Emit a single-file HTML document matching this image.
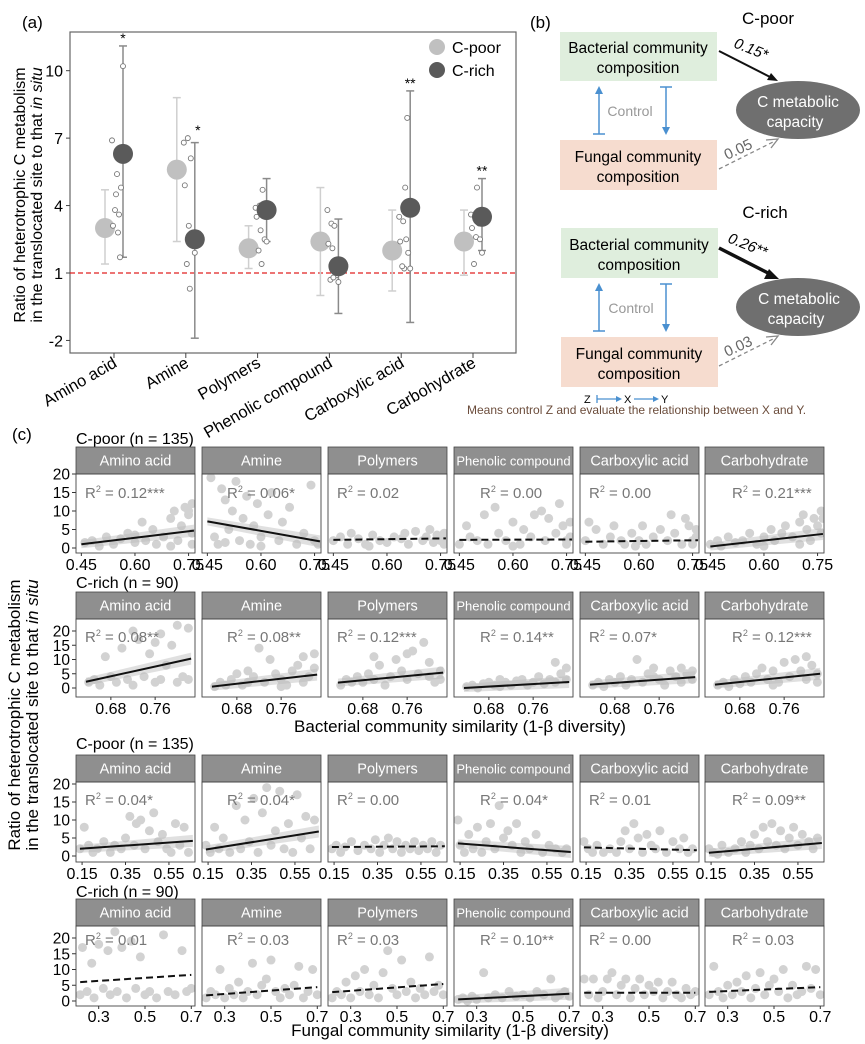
<!DOCTYPE html>
<html><head><meta charset="utf-8">
<style>
html,body{margin:0;padding:0;background:#fff;}
svg{display:block;font-family:"Liberation Sans",sans-serif;}
.nar{font-family:"Liberation Sans Narrow","Liberation Sans",sans-serif;}
</style></head>
<body>
<svg id="fig" width="865" height="1044" viewBox="0 0 865 1044" xmlns="http://www.w3.org/2000/svg">
  <text x="22" y="28" font-size="17">(a)</text>
  <text x="530" y="28" font-size="17">(b)</text>
  <text x="12" y="440" font-size="17">(c)</text>

  <g id="pa">
    <rect x="70" y="32" width="446" height="321" fill="none" stroke="#666" stroke-width="1.2"/>
  </g>
  <text transform="translate(25,195) rotate(-90)" text-anchor="middle" font-size="16">Ratio of heterotrophic C metabolism</text>
  <text transform="translate(42,195) rotate(-90)" text-anchor="middle" font-size="16">in the translocated site to that <tspan font-style="italic">in situ</tspan></text>
  <g>
    <line x1="437" y1="39" x2="437" y2="55" stroke="#ccc" stroke-width="1.5"/>
    <circle cx="437" cy="47" r="8" fill="#c0c0c0"/>
    <text x="452" y="53" font-size="16">C-poor</text>
    <line x1="437" y1="62" x2="437" y2="78" stroke="#888" stroke-width="1.5"/>
    <circle cx="437" cy="70" r="8" fill="#5a5a5a"/>
    <text x="452" y="76" font-size="16">C-rich</text>
  </g>

  <g font-size="15.5">
    <text x="768" y="24" font-size="17" text-anchor="middle">C-poor</text>
    <rect x="560" y="32" width="157" height="49" fill="#dfeedd"/>
    <text x="638" y="53" text-anchor="middle">Bacterial community</text>
    <text x="638" y="73" text-anchor="middle">composition</text>
    <rect x="560" y="140" width="157" height="50" fill="#f6dccf"/>
    <text x="638" y="162" text-anchor="middle">Fungal community</text>
    <text x="638" y="182" text-anchor="middle">composition</text>
    <ellipse cx="798" cy="110" rx="62" ry="29" fill="#6f6f6f"/>
    <text x="798" y="107" text-anchor="middle" fill="#fff">C metabolic</text>
    <text x="795" y="127" text-anchor="middle" fill="#fff">capacity</text>
    <line x1="599" y1="134" x2="599" y2="90" stroke="#4a90d0" stroke-width="1.5"/>
    <polygon points="599,86 595,94 603,94" fill="#4a90d0"/>
    <line x1="593" y1="134" x2="605" y2="134" stroke="#4a90d0" stroke-width="1.5"/>
    <line x1="666" y1="87" x2="666" y2="130" stroke="#4a90d0" stroke-width="1.5"/>
    <line x1="660" y1="87" x2="672" y2="87" stroke="#4a90d0" stroke-width="1.5"/>
    <polygon points="666,135 662,127 670,127" fill="#4a90d0"/>
    <text x="630" y="116" fill="#999" font-size="14" text-anchor="middle">Control</text>
    <line x1="719" y1="51" x2="772" y2="78" stroke="#111" stroke-width="2"/>
    <polygon points="778,81 767,80 771,73" fill="#111"/>
    <text transform="translate(733,47) rotate(22)" font-size="15" font-style="italic">0.15*</text>
    <line x1="719" y1="169" x2="773" y2="142" stroke="#888" stroke-width="1.3" stroke-dasharray="4,3"/>
    <polyline points="766,140 778,139 771,148" fill="none" stroke="#888" stroke-width="1.3"/>
    <text transform="translate(727,160) rotate(-25)" font-size="15" fill="#666">0.05</text>

    <text x="765" y="218" font-size="17" text-anchor="middle">C-rich</text>
    <rect x="561" y="228" width="157" height="50" fill="#dfeedd"/>
    <text x="639" y="250" text-anchor="middle">Bacterial community</text>
    <text x="639" y="270" text-anchor="middle">composition</text>
    <rect x="561" y="337" width="157" height="50" fill="#f6dccf"/>
    <text x="639" y="359" text-anchor="middle">Fungal community</text>
    <text x="639" y="379" text-anchor="middle">composition</text>
    <ellipse cx="798" cy="307" rx="62" ry="29" fill="#6f6f6f"/>
    <text x="799" y="304" text-anchor="middle" fill="#fff">C metabolic</text>
    <text x="796" y="324" text-anchor="middle" fill="#fff">capacity</text>
    <line x1="599" y1="331" x2="599" y2="287" stroke="#4a90d0" stroke-width="1.5"/>
    <polygon points="599,283 595,291 603,291" fill="#4a90d0"/>
    <line x1="593" y1="331" x2="605" y2="331" stroke="#4a90d0" stroke-width="1.5"/>
    <line x1="666" y1="284" x2="666" y2="327" stroke="#4a90d0" stroke-width="1.5"/>
    <line x1="660" y1="284" x2="672" y2="284" stroke="#4a90d0" stroke-width="1.5"/>
    <polygon points="666,332 662,324 670,324" fill="#4a90d0"/>
    <text x="631" y="313" fill="#999" font-size="14" text-anchor="middle">Control</text>
    <line x1="719" y1="248" x2="770" y2="274" stroke="#111" stroke-width="3.5"/>
    <polygon points="779,279 764,279 769,269" fill="#111"/>
    <text transform="translate(727,242) rotate(22)" font-size="15" font-style="italic">0.26**</text>
    <line x1="719" y1="366" x2="773" y2="339" stroke="#888" stroke-width="1.3" stroke-dasharray="4,3"/>
    <polyline points="766,337 778,336 771,345" fill="none" stroke="#888" stroke-width="1.3"/>
    <text transform="translate(727,357) rotate(-25)" font-size="15" fill="#666">0.03</text>

    <g font-size="11">
      <text x="584" y="403">Z</text>
      <line x1="597" y1="399" x2="618" y2="399" stroke="#4a90d0" stroke-width="1.3"/>
      <line x1="597" y1="395" x2="597" y2="403" stroke="#4a90d0" stroke-width="1.3"/>
      <polygon points="622,399 616,396 616,402" fill="#4a90d0"/>
      <text x="624" y="403">X</text>
      <line x1="634" y1="399" x2="655" y2="399" stroke="#4a90d0" stroke-width="1.3"/>
      <polygon points="659,399 653,396 653,402" fill="#4a90d0"/>
      <text x="661" y="403">Y</text>
    </g>
    <text x="467" y="414" font-size="12" fill="#6b4c3b">Means control Z and evaluate the relationship between X and Y.</text>
  </g>

  <g id="pc"></g>
  <text transform="translate(20,715) rotate(-90)" text-anchor="middle" font-size="17">Ratio of heterotrophic C metabolism</text>
  <text transform="translate(38,715) rotate(-90)" text-anchor="middle" font-size="17">in the translocated site to that <tspan font-style="italic">in situ</tspan></text>
  <text x="460" y="732" text-anchor="middle" font-size="17" class="nar">Bacterial community similarity (1-β diversity)</text>
  <text x="450" y="1036" text-anchor="middle" font-size="17" class="nar">Fungal community similarity (1-β diversity)</text>
</svg>

<script>
const NS = "http://www.w3.org/2000/svg";
// ---------- Panel a data ----------
const aCategories = ["Amino acid","Amine","Polymers","Phenolic compound","Carboxylic acid","Carbohydrate"];
const aPoorMean = [3.0, 5.6, 2.1, 2.4, 2.0, 2.4];
const aPoorLow  = [1.4, 2.4, 1.2, 0.0, 0.2, 0.9];
const aPoorHigh = [4.7, 8.8, 3.1, 4.8, 3.8, 3.8];
const aRichMean = [6.3, 2.5, 3.8, 1.3, 3.9, 3.5];
const aRichLow  = [1.7, -1.9, 2.4, -0.8, -1.2, 2.0];
const aRichHigh = [11.1, 6.8, 5.2, 3.4, 9.1, 5.2];
const aSig = ["*","*","","","**","**"];
const aPoints = [
  [6.9,4.5,3.6,3.1,5.4,4.8,10.2,3.8,2.8,1.7],
  [6.8,7.0,6.1,4.9,3.1,2.8,1.9,1.4,0.3],
  [3.9,4.0,4.7,3.5,2.9,2.5,2.4,2.0,1.4],
  [3.8,3.2,3.1,2.3,2.1,0.9,0.6,0.7,0.8],
  [3.5,3.3,2.5,2.4,1.2,1.9,1.2,1.3,4.8,7.9],
  [3.6,3.5,3.4,3.0,2.6,2.5,1.9,1.4,4.8,3.2]
];
const aYTicks = [-2, 1, 4, 7, 10];

const pa = document.getElementById('pa');
function mk(tag, attrs, parent){ const e=document.createElementNS(NS,tag); for(const k in attrs) e.setAttribute(k,attrs[k]); (parent||pa).appendChild(e); return e; }
const ay = v => 273 - (v-1)*22.48;
const ax = i => 114 + i*71.8;
const jit = [-2,2,5,-1,3,7,9,1,4,6];

aYTicks.forEach(t=>{
  const l = mk('line',{x1:66,x2:70,y1:ay(t),y2:ay(t),stroke:'#444'});
   
  const tx = mk('text',{x:63,y:ay(t)+6,'text-anchor':'end','font-size':16});
  tx.textContent = t;
   
});
const ref = mk('line',{x1:70,x2:516,y1:ay(1),y2:ay(1),stroke:'#e02020','stroke-width':1.3,'stroke-dasharray':'5,3'});
 

aCategories.forEach((c,i)=>{
  const x = ax(i);
  const tk = mk('line',{x1:x,x2:x,y1:353,y2:358,stroke:'#444'});
   
  const lb = mk('text',{transform:`translate(${x+4},366) rotate(-30)`,'text-anchor':'end','font-size':16.5});
  lb.textContent = c;
   
  const xp = x-9, xr = x+9;
  const g1 = mk('g',{stroke:'#cfcfcf','stroke-width':1.5});
   
  mk('line',{x1:xp,x2:xp,y1:ay(aPoorLow[i]),y2:ay(aPoorHigh[i])},g1);
  mk('line',{x1:xp-4,x2:xp+4,y1:ay(aPoorLow[i]),y2:ay(aPoorLow[i])},g1);
  mk('line',{x1:xp-4,x2:xp+4,y1:ay(aPoorHigh[i]),y2:ay(aPoorHigh[i])},g1);
  const g2 = mk('g',{stroke:'#8a8a8a','stroke-width':1.5});
   
  mk('line',{x1:xr,x2:xr,y1:ay(aRichLow[i]),y2:ay(aRichHigh[i])},g2);
  mk('line',{x1:xr-4,x2:xr+4,y1:ay(aRichLow[i]),y2:ay(aRichLow[i])},g2);
  mk('line',{x1:xr-4,x2:xr+4,y1:ay(aRichHigh[i]),y2:ay(aRichHigh[i])},g2);
  const mp = mk('circle',{cx:xp,cy:ay(aPoorMean[i]),r:10,fill:'#c0c0c0'});
   
  aPoints[i].forEach((v,j)=>{
    const p = mk('circle',{cx:x+jit[j%jit.length],cy:ay(v),r:2.5,fill:'#fff',stroke:'#777','stroke-width':0.9});
     
  });
  const mr = mk('circle',{cx:xr,cy:ay(aRichMean[i]),r:10,fill:'#5a5a5a'});
   
  if(aSig[i]){
    const s = mk('text',{x:xr+(i===1?3:0),y:ay(Math.max(aRichHigh[i], i===1?7.0:aRichHigh[i]))-3,'text-anchor':'middle','font-size':14});
    s.textContent = aSig[i];
     
  }
});

// ---------- Panel c data ----------
const cTitles = ["Amino acid","Amine","Polymers","Phenolic compound","Carboxylic acid","Carbohydrate"];
const rowLabels = ["C-poor (n = 135)","C-rich (n = 90)","C-poor (n = 135)","C-rich (n = 90)"];
const row1Ticks = [0.45,0.60,0.75];
const row2Ticks = [0.68,0.76];
const row3Ticks = [0.15,0.35,0.55];
const row4Ticks = [0.3,0.5,0.7];
const row1TickLabels = ["0.45","0.60","0.75"];
const row2TickLabels = ["0.68","0.76"];
const row3TickLabels = ["0.15","0.35","0.55"];
const row4TickLabels = ["0.3","0.5","0.7"];
const yTicksC = [0,5,10,15,20];
const row1R2 = ["0.12***","0.06*","0.02","0.00","0.00","0.21***"];
const row2R2 = ["0.08**","0.08**","0.12***","0.14**","0.07*","0.12***"];
const row3R2 = ["0.04*","0.04*","0.00","0.04*","0.01","0.09**"];
const row4R2 = ["0.01","0.03","0.03","0.10**","0.00","0.03"];
const row1Sig = [1,1,0,0,0,1];
const row2Sig = [1,1,1,1,1,1];
const row3Sig = [1,1,0,1,0,1];
const row4Sig = [0,0,0,1,0,0];
const row1LineX = [0.45,0.765];
const row2LineX = [0.635,0.825];
const row3LineX = [0.14,0.66];
const row4LineX = [0.22,0.70];
const row1LineY = [[1,4.7],[7.2,1.8],[2.2,2.6],[2.2,2.3],[1.7,2.1],[0.4,3.8]];
const row2LineY = [[2.2,10.3],[0.5,4.7],[1.9,5.4],[0,2.1],[1.2,3.8],[1.2,5.0]];
const row3LineY = [[2.0,4.2],[1.8,6.8],[2.5,2.7],[3.5,1.1],[2.4,1.6],[0.9,3.6]];
const row4LineY = [[6,8.3],[1.8,4.4],[2.8,5.4],[0.5,2.3],[2.6,2.6],[2.9,4.4]];
const row1Pts = [
"0.46 1.5,0.48 2,0.5 0.5,0.52 3,0.54 1,0.56 2.5,0.58 4,0.6 1.5,0.62 7,0.63 2,0.65 5,0.66 1,0.68 3,0.7 8,0.71 10,0.72 2,0.73 6,0.74 11,0.75 9,0.76 4,0.76 12,0.76 1,0.75 10,0.7 0.5,0.6 3.5",
"0.46 19,0.47 3,0.48 1,0.49 16,0.5 13,0.51 5,0.52 10,0.53 18,0.54 2,0.55 8,0.56 14,0.57 1,0.58 6,0.59 12,0.6 3,0.62 9,0.63 15,0.65 2,0.66 7,0.68 11,0.7 1,0.72 4,0.74 17,0.75 2,0.76 1,0.6 0.5,0.5 1.5",
"0.45 2,0.47 3,0.49 1,0.5 4,0.52 2.5,0.54 1,0.56 3.5,0.58 2,0.6 1.5,0.62 3,0.64 2.5,0.66 1,0.68 4.5,0.7 2,0.71 3,0.72 5,0.73 1.5,0.74 3.5,0.75 2,0.76 4,0.76 1,0.76 3,0.55 0.5,0.65 4",
"0.45 1,0.47 6,0.48 3,0.5 2,0.52 9,0.53 1,0.55 11,0.56 4,0.58 2,0.6 7,0.62 1,0.63 5,0.65 3,0.66 9,0.68 10,0.69 2,0.7 8,0.72 4,0.73 12,0.74 6,0.75 1,0.76 3,0.76 7,0.75 2,0.6 0.5",
"0.45 2,0.46 7,0.48 5,0.5 1,0.52 3,0.53 6,0.55 2,0.56 1,0.58 4,0.6 2,0.61 6,0.62 1,0.64 3,0.66 5,0.68 2,0.69 9,0.7 4,0.72 1,0.73 8,0.74 6,0.75 2,0.76 5,0.76 3,0.75 1,0.59 0.5",
"0.45 1,0.47 2,0.48 0.5,0.5 3,0.52 1.5,0.54 2,0.56 4,0.58 1,0.6 3,0.62 5,0.63 2,0.65 4,0.66 6,0.68 3,0.7 7,0.71 9,0.72 5,0.73 2,0.74 8,0.75 6,0.76 10,0.76 4,0.765 8,0.6 0.5,0.7 1"];
const row2Pts = [
"0.64 2,0.65 3,0.66 1,0.67 11,0.68 4,0.69 2,0.7 14,0.71 3,0.72 1,0.73 17,0.74 4,0.75 12,0.76 2,0.77 19,0.77 3,0.78 8,0.79 15,0.8 2,0.8 22,0.81 4,0.82 21,0.82 3,0.72 20,0.76 16",
"0.64 0.5,0.65 2,0.66 1,0.67 3,0.68 5,0.69 1,0.7 2,0.71 4,0.72 14,0.73 2,0.74 10,0.75 5,0.76 3,0.77 1,0.78 6,0.79 8,0.8 2,0.8 11,0.81 4,0.82 12,0.82 7,0.7 6,0.76 0.5",
"0.64 1,0.65 3,0.66 2,0.67 4,0.68 2,0.69 5,0.7 3,0.71 8,0.72 1,0.73 4,0.74 10,0.75 6,0.76 3,0.77 13,0.78 5,0.79 16,0.8 4,0.8 9,0.81 2,0.82 6,0.82 3,0.7 11,0.76 12",
"0.64 0.5,0.65 1,0.66 0,0.67 1.5,0.68 2,0.69 1,0.7 3,0.71 2,0.72 1,0.73 2.5,0.74 3,0.75 1,0.76 2,0.77 4,0.78 1.5,0.79 3,0.8 2,0.8 9,0.81 5,0.82 7,0.82 3,0.7 0.5",
"0.64 1,0.65 2,0.66 0.5,0.67 3,0.68 2,0.69 4,0.7 1,0.71 3,0.72 10,0.73 2,0.74 5,0.75 7,0.76 3,0.77 1,0.78 6,0.79 4,0.8 2,0.8 7,0.81 5,0.82 3,0.82 6,0.75 4",
"0.64 1,0.65 2,0.66 0.5,0.67 3,0.68 1.5,0.69 4,0.7 2,0.71 5,0.72 7,0.73 3,0.74 6,0.75 2,0.76 9,0.77 4,0.78 10,0.79 6,0.8 3,0.8 11,0.81 8,0.82 5,0.82 2,0.74 1"];
const row3Pts = [
"0.14 2,0.16 8,0.18 3,0.2 1,0.22 2,0.25 4,0.28 1,0.3 3,0.33 2,0.35 5,0.37 11,0.39 3,0.4 9,0.42 10,0.44 2,0.46 7,0.48 12,0.5 4,0.52 6,0.54 2,0.56 1,0.58 9,0.6 3,0.62 8,0.64 1",
"0.14 3,0.16 1,0.18 8,0.2 2,0.22 5,0.25 1,0.28 14,0.3 2,0.32 10,0.34 4,0.36 16,0.38 1,0.4 12,0.42 19,0.44 3,0.46 7,0.48 18,0.5 2,0.52 9,0.54 1,0.56 17,0.58 5,0.6 11,0.62 2,0.64 10",
"0.14 2,0.16 3,0.18 1,0.2 2.5,0.23 4,0.26 1.5,0.29 3,0.32 2,0.34 4.5,0.36 1,0.38 3,0.4 5,0.42 2,0.44 4,0.46 1,0.48 3,0.5 2,0.52 4,0.54 1.5,0.56 3,0.58 2,0.6 4,0.62 1,0.64 3",
"0.14 10,0.15 3,0.17 1,0.19 6,0.21 2,0.23 8,0.25 1,0.27 4,0.29 9,0.31 2,0.33 14,0.35 5,0.37 7,0.39 3,0.41 9,0.43 1,0.45 4,0.47 2,0.5 6,0.53 1,0.56 3,0.59 2,0.62 1,0.64 2",
"0.14 4,0.16 2,0.18 1,0.2 3,0.23 1,0.26 2,0.29 1,0.31 4,0.33 7,0.35 2,0.37 9,0.39 5,0.41 1,0.43 6,0.45 3,0.47 2,0.49 7,0.52 1,0.55 4,0.58 2,0.6 5,0.62 1,0.64 2",
"0.14 2,0.16 1,0.18 0.5,0.2 3,0.23 1,0.26 2,0.29 4,0.31 1,0.33 3,0.35 6,0.37 2,0.39 8,0.41 4,0.43 9,0.45 3,0.47 7,0.49 2,0.51 5,0.53 8,0.55 3,0.57 6,0.6 4,0.62 2,0.64 5"];
const row4Pts = [
"0.22 2,0.23 17,0.25 3,0.27 12,0.28 1,0.3 18,0.32 4,0.34 16,0.35 2,0.37 22,0.38 3,0.4 17,0.42 1,0.44 19,0.46 4,0.48 14,0.5 2,0.52 3,0.55 1,0.58 21,0.6 3,0.63 2,0.66 16,0.68 3,0.7 4",
"0.22 1,0.24 3,0.26 2,0.28 10,0.3 1,0.32 4,0.34 2,0.36 6,0.38 1,0.4 3,0.42 12,0.44 2,0.46 5,0.48 7,0.5 13,0.52 3,0.54 1,0.56 4,0.58 2,0.6 5,0.62 11,0.64 1,0.66 3,0.68 10,0.7 2",
"0.22 1,0.24 3,0.26 2,0.28 6,0.3 1,0.32 8,0.34 3,0.36 10,0.38 2,0.4 5,0.42 1,0.44 9,0.46 16,0.48 4,0.5 2,0.52 13,0.54 3,0.56 6,0.58 1,0.6 4,0.62 2,0.64 14,0.66 3,0.68 5,0.7 2",
"0.22 0.5,0.24 1,0.26 0,0.28 1.5,0.3 0.5,0.33 9,0.35 1,0.38 2,0.41 1,0.44 3,0.47 1.5,0.5 2,0.53 1,0.56 3,0.59 2,0.62 7,0.64 1,0.66 2,0.68 3,0.7 1.5",
"0.22 7,0.24 2,0.26 7,0.28 1,0.3 3,0.32 7,0.34 9,0.36 2,0.38 5,0.4 7,0.42 1,0.44 4,0.46 7,0.48 2,0.5 5,0.52 3,0.54 6,0.56 1,0.58 3,0.6 6,0.62 2,0.64 1,0.66 4,0.68 2,0.7 3",
"0.22 2,0.24 11,0.26 3,0.28 1,0.3 5,0.32 2,0.34 6,0.36 3,0.38 8,0.4 1,0.42 4,0.44 9,0.46 2,0.48 5,0.5 7,0.52 3,0.54 10,0.56 1,0.58 5,0.6 2,0.62 3,0.64 11,0.66 4,0.68 10,0.7 2"];

// layout (pixels)
const facetLeft = [76,202,328,454,580,705];
const facetW = 119;
const r2Off = [9,25,9,26,9,27];
const rows = [
  {label:444, stripTop:447, stripBot:474, bot:553, y0:548, y20:474, xd:[0.435,0.768], ticks:row1Ticks, tl:row1TickLabels, r2:row1R2, sig:row1Sig, lx:row1LineX, ly:row1LineY, pts:row1Pts, r2y:498, tly:570},
  {label:588, stripTop:592, stripBot:619, bot:697, y0:688, y20:631, xd:[0.617,0.832], ticks:row2Ticks, tl:row2TickLabels, r2:row2R2, sig:row2Sig, lx:row2LineX, ly:row2LineY, pts:row2Pts, r2y:642, tly:714},
  {label:749, stripTop:755, stripBot:782, bot:862, y0:856, y20:784, xd:[0.122,0.670], ticks:row3Ticks, tl:row3TickLabels, r2:row3R2, sig:row3Sig, lx:row3LineX, ly:row3LineY, pts:row3Pts, r2y:805, tly:879},
  {label:897, stripTop:899, stripBot:926, bot:1006, y0:1001, y20:938, xd:[0.202,0.716], ticks:row4Ticks, tl:row4TickLabels, r2:row4R2, sig:row4Sig, lx:row4LineX, ly:row4LineY, pts:row4Pts, r2y:945, tly:1022}
];
const pc = document.getElementById('pc');
const defs = mk('defs',{},pc);
rows.forEach((R,ri)=>{
  const rl = mk('text',{x:76,y:R.label,'font-size':16,class:'nar'},pc);
  rl.textContent = rowLabels[ri];
   
  const yS = v => R.y0 - v*(R.y0-R.y20)/20;
  yTicksC.forEach(t=>{
    const l = mk('line',{x1:72,x2:76,y1:yS(t),y2:yS(t),stroke:'#333'},pc);
     
    const tx = mk('text',{x:70,y:yS(t)+5.5,'text-anchor':'end','font-size':15.5,class:'nar'},pc);
    tx.textContent = t;
     
  });
  cTitles.forEach((title,fi)=>{
    const L = facetLeft[fi];
    const xS = v => L + (v-R.xd[0])/(R.xd[1]-R.xd[0])*facetW;
    const g = mk('g',{},pc);
     
    const strip = mk('rect',{x:L,y:R.stripTop,width:facetW,height:R.stripBot-R.stripTop,fill:'#8f8f8f',stroke:'#444','stroke-width':0.8},g);
     
    const st = mk('text',{x:L+facetW/2,y:(R.stripTop+R.stripBot)/2+5,'text-anchor':'middle',fill:'#fff','font-size':title.length>15?13:14.5,class:'nar'},g);
    st.textContent = title;
     
    const cid = 'clip'+ri+'_'+fi;
    const cp = mk('clipPath',{id:cid},defs);
    mk('rect',{x:L,y:R.stripBot,width:facetW,height:R.bot-R.stripBot},cp);
    const inner = mk('g',{'clip-path':`url(#${cid})`},g);
    R.pts[fi].split(',').forEach(s=>{
      const [px,py] = s.trim().split(' ').map(Number);
      const c = mk('circle',{cx:xS(px),cy:yS(py),r:4.5,fill:'#d2d2d2'},inner);
       
    });
    const [ya,yb] = R.ly[fi];
    const x1=xS(R.lx[0]), x2=xS(R.lx[1]);
    if(R.sig[fi]){
      const band = mk('polygon',{points:`${x1},${yS(ya)-4} ${x2},${yS(yb)-6} ${x2},${yS(yb)+6} ${x1},${yS(ya)+4}`,fill:'#bbb',opacity:0.45},inner);
       
    }
    const ln = mk('line',{x1:x1,y1:yS(ya),x2:x2,y2:yS(yb),stroke:'#111','stroke-width':2,'stroke-dasharray':R.sig[fi]?'none':'7,4'},inner);
     
    const fr = mk('rect',{x:L,y:R.stripBot,width:facetW,height:R.bot-R.stripBot,fill:'none',stroke:'#444','stroke-width':0.9},g);
     
    const r2 = mk('text',{x:L+r2Off[fi],y:R.r2y,'font-size':15,fill:'#777',class:'nar'},g);
    r2.innerHTML = 'R<tspan font-size="9" dy="-6">2</tspan><tspan dy="6"> = '+R.r2[fi]+'</tspan>';
     
    R.ticks.forEach((t,ti)=>{
      const tk = mk('line',{x1:xS(t),x2:xS(t),y1:R.bot,y2:R.bot+3,stroke:'#333'},g);
       
      const tl = mk('text',{x:xS(t),y:R.tly,'text-anchor':'middle','font-size':16,class:'nar'},g);
      tl.textContent = R.tl[ti];
       
    });
  });
});
</script>
</body></html>
